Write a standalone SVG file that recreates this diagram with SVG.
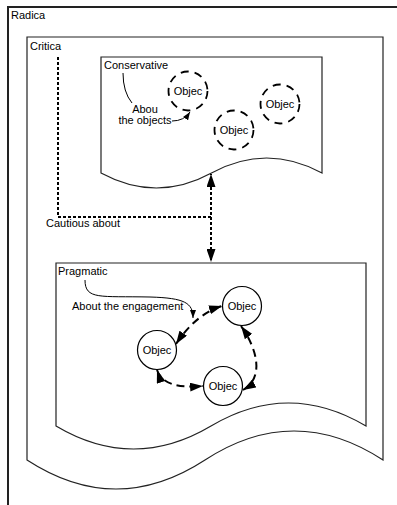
<svg xmlns="http://www.w3.org/2000/svg" width="397" height="505" viewBox="0 0 397 505">
<style>
text{font-family:"Liberation Sans",Arial,sans-serif;font-size:11px;fill:#000}
.doc{fill:#fff;stroke:#222;stroke-width:1.2}
.frame{fill:none;stroke:#222;stroke-width:2}
.dc{fill:#fff;stroke:#000;stroke-width:1.8;stroke-dasharray:8 6}
.sc{fill:#fff;stroke:#000;stroke-width:1.2}
.conn{fill:none;stroke:#000;stroke-width:2;stroke-dasharray:3 2}
.loop{fill:none;stroke:#000;stroke-width:2;stroke-dasharray:8 5}
.thin{fill:none;stroke:#000;stroke-width:1}
.c{text-anchor:middle}
</style>
<defs>
<marker id="ah" viewBox="0 0 13 9" refX="13" refY="4.5" markerWidth="13" markerHeight="9" orient="auto-start-reverse" markerUnits="userSpaceOnUse"><path d="M0,0 L13,4.5 L0,9 z" fill="#000"/></marker>
<marker id="sh" viewBox="0 0 8 6" refX="8" refY="3" markerWidth="8" markerHeight="6" orient="auto" markerUnits="userSpaceOnUse"><path d="M0,0 L8,3 L0,6 z" fill="#000"/></marker>
</defs>
<rect width="397" height="505" fill="#fff"/>
<g id="radica">
<path class="frame" d="M8,505 V7 H400"/>
<text x="11" y="19">Radica</text>
</g>
<g id="critica">
<path class="doc" d="M27,37 H383 V460 Q294,402 205,460 Q116,518 27,460 Z"/>
<text x="30" y="50">Critica</text>
</g>
<g id="conservative">
<path class="doc" d="M101,57 H322 V173 Q266.5,143 211.5,173 Q156.5,203 101,173 Z"/>
<text x="104" y="69">Conservative</text>
</g>
<g id="pragmatic">
<path class="doc" d="M56,263 H366 V426 Q288.5,380 211,426 Q133.5,472 56,426 Z"/>
<text x="58" y="275">Pragmatic</text>
</g>
<g id="obj1"><circle class="dc" cx="188" cy="91" r="19.5"/><text class="c" x="188" y="95">Objec</text></g>
<g id="obj2"><circle class="dc" cx="234" cy="130" r="19.5"/><text class="c" x="234" y="134">Objec</text></g>
<g id="obj3"><circle class="dc" cx="280" cy="104" r="19.5"/><text class="c" x="280" y="108">Objec</text></g>
<g id="objA"><circle class="sc" cx="242" cy="306" r="19.5"/><text class="c" x="242" y="310">Objec</text></g>
<g id="objB"><circle class="sc" cx="157" cy="350" r="19.5"/><text class="c" x="157" y="354">Objec</text></g>
<g id="objC"><circle class="sc" cx="223" cy="386" r="19.5"/><text class="c" x="223" y="390">Objec</text></g>
<g id="connectors">
<path class="conn" d="M58,57 V217 H211 V174" marker-end="url(#ah)"/>
<path class="conn" d="M211,217 V262" marker-end="url(#ah)"/>
<path class="thin" d="M123,73 Q123,92 132,103"/>
<path class="thin" d="M172,121 Q184,121 190,112" marker-end="url(#sh)"/>
<path class="thin" d="M85,280 C85,300 100,296 150,297 C185,298 193,303 193,318" marker-end="url(#sh)"/>
<path class="loop" d="M176,344 Q196,314 222,306" marker-start="url(#ah)" marker-end="url(#ah)"/>
<path class="loop" d="M241,326 C258,350 264,378 243,390" marker-start="url(#ah)" marker-end="url(#ah)"/>
<path class="loop" d="M157,370 C162,385 180,388 203,386" marker-start="url(#ah)" marker-end="url(#ah)"/>
</g>
<g id="labels">
<text x="46" y="227">Cautious about</text>
<text class="c" x="145" y="113">Abou</text>
<text class="c" x="145" y="124">the objects</text>
<text x="72" y="310">About the engagement</text>
</g>
</svg>
